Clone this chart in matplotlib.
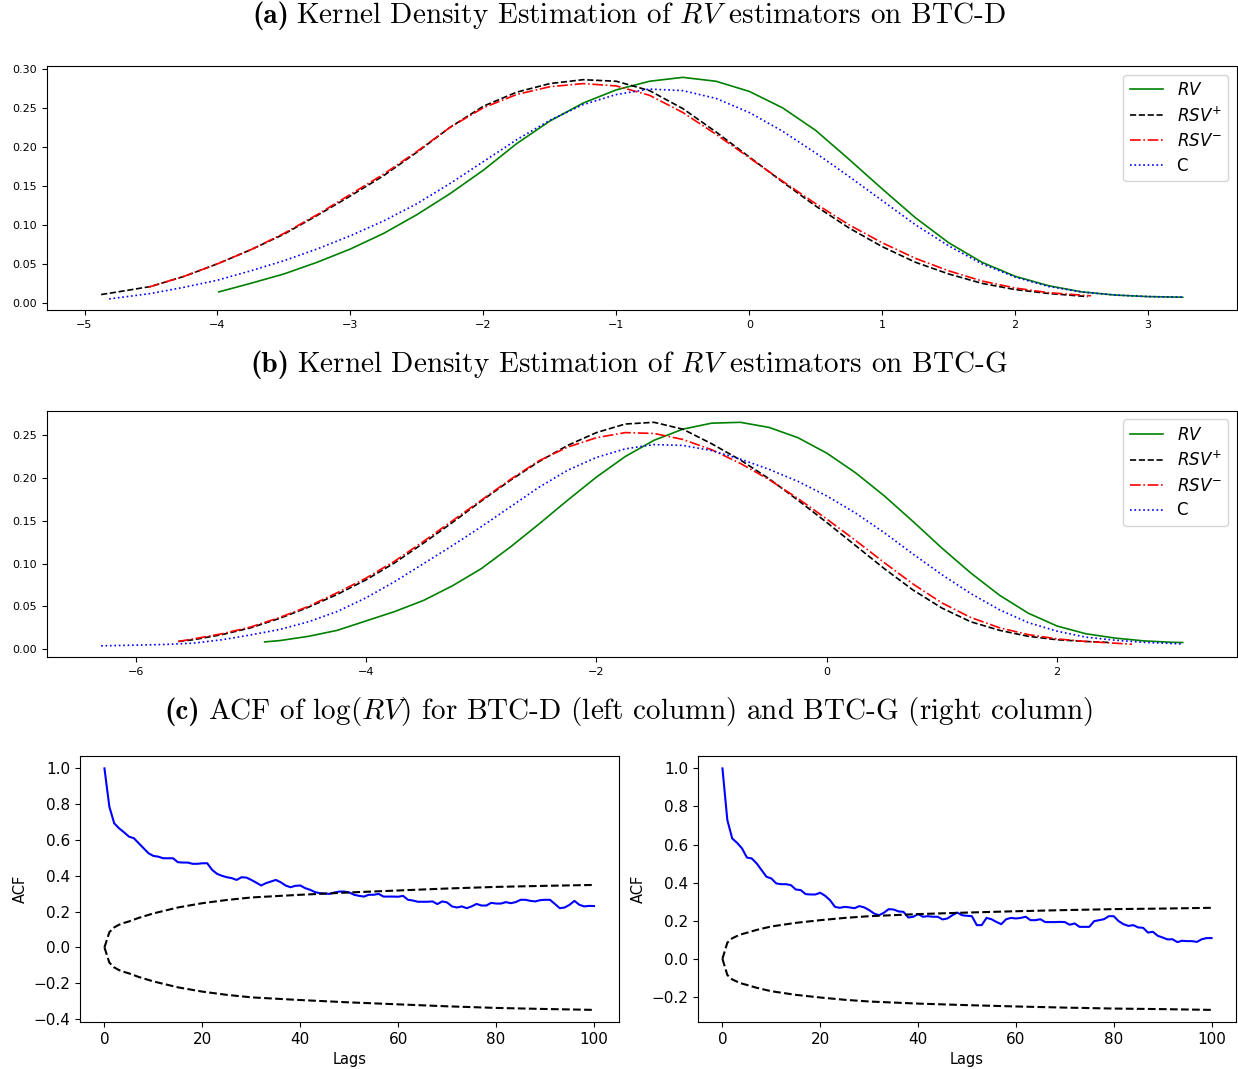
import matplotlib
matplotlib.use('Agg')
import matplotlib.pyplot as plt

# ---- (a) KDE on BTC-D ----
a_rv_x = [-3.99, -3.75, -3.5, -3.25, -3, -2.75, -2.5, -2.25, -2, -1.75, -1.5, -1.25, -1, -0.75, -0.5,
          -0.25, 0, 0.25, 0.5, 0.75, 1, 1.25, 1.5, 1.75, 2, 2.25, 2.5, 2.75, 3, 3.26]
a_rv_y = [0.014, 0.025, 0.037, 0.052, 0.069, 0.089, 0.113, 0.140, 0.170, 0.204, 0.233, 0.256, 0.273,
          0.284, 0.289, 0.284, 0.271, 0.250, 0.221, 0.184, 0.146, 0.109, 0.077, 0.052, 0.034, 0.022,
          0.014, 0.010, 0.008, 0.0072]
a_rsvp_x = [-4.875, -4.75, -4.5, -4.25, -4, -3.75, -3.5, -3.25, -3, -2.75, -2.5, -2.25, -2, -1.75, -1.5,
            -1.25, -1, -0.75, -0.5, -0.25, 0, 0.25, 0.5, 0.75, 1, 1.25, 1.5, 1.75, 2, 2.25, 2.545]
a_rsvp_y = [0.0106, 0.014, 0.021, 0.034, 0.050, 0.068, 0.088, 0.112, 0.137, 0.163, 0.193, 0.225, 0.252,
            0.270, 0.281, 0.286, 0.284, 0.272, 0.249, 0.219, 0.187, 0.155, 0.124, 0.096, 0.072, 0.052,
            0.037, 0.025, 0.017, 0.012, 0.008]
a_rsvm_x = [-4.52, -4.25, -4, -3.75, -3.5, -3.25, -3, -2.75, -2.5, -2.25, -2, -1.75, -1.5, -1.25, -1,
            -0.75, -0.5, -0.25, 0, 0.25, 0.5, 0.75, 1, 1.25, 1.5, 1.75, 2, 2.25, 2.57]
a_rsvm_y = [0.020, 0.034, 0.050, 0.068, 0.089, 0.113, 0.139, 0.165, 0.194, 0.225, 0.250, 0.267, 0.277,
            0.281, 0.278, 0.266, 0.244, 0.216, 0.186, 0.156, 0.127, 0.100, 0.077, 0.057, 0.041, 0.028,
            0.019, 0.013, 0.009]
a_c_x = [-4.815, -4.5, -4.25, -4, -3.75, -3.5, -3.25, -3, -2.75, -2.5, -2.25, -2, -1.75, -1.5, -1.25, -1,
         -0.75, -0.5, -0.25, 0, 0.25, 0.5, 0.75, 1, 1.25, 1.5, 1.75, 2, 2.25, 2.5, 2.75, 3, 3.26]
a_c_y = [0.005, 0.012, 0.020, 0.029, 0.041, 0.054, 0.069, 0.086, 0.105, 0.127, 0.153, 0.181, 0.209, 0.234,
         0.254, 0.267, 0.274, 0.272, 0.262, 0.244, 0.220, 0.192, 0.162, 0.131, 0.100, 0.073, 0.050,
         0.033, 0.021, 0.014, 0.010, 0.008, 0.0072]

# ---- (b) KDE on BTC-G ----
b_rv_x = [-4.88, -4.75, -4.5, -4.25, -4, -3.75, -3.5, -3.25, -3, -2.75, -2.5, -2.25, -2, -1.75, -1.5,
          -1.25, -1, -0.75, -0.5, -0.25, 0, 0.25, 0.5, 0.75, 1, 1.25, 1.5, 1.75, 2, 2.25, 2.5, 2.75, 3, 3.09]
b_rv_y = [0.0085, 0.010, 0.015, 0.022, 0.033, 0.044, 0.057, 0.074, 0.094, 0.119, 0.146, 0.174, 0.201,
          0.225, 0.244, 0.257, 0.264, 0.265, 0.259, 0.247, 0.229, 0.206, 0.179, 0.149, 0.118, 0.089,
          0.063, 0.042, 0.027, 0.018, 0.013, 0.0097, 0.008, 0.0078]
b_rsvp_x = [-5.63, -5.5, -5.25, -5, -4.75, -4.5, -4.25, -4, -3.75, -3.5, -3.25, -3, -2.75, -2.5, -2.25,
            -2, -1.75, -1.5, -1.25, -1, -0.75, -0.5, -0.25, 0, 0.25, 0.5, 0.75, 1, 1.25, 1.5, 1.75, 2,
            2.25, 2.46]
b_rsvp_y = [0.009, 0.011, 0.017, 0.025, 0.036, 0.049, 0.064, 0.081, 0.101, 0.124, 0.148, 0.173, 0.197,
            0.219, 0.238, 0.253, 0.263, 0.265, 0.257, 0.240, 0.221, 0.199, 0.174, 0.148, 0.121, 0.094,
            0.069, 0.048, 0.032, 0.022, 0.015, 0.011, 0.009, 0.0078]
b_rsvm_x = [-5.63, -5.5, -5.25, -5, -4.75, -4.5, -4.25, -4, -3.75, -3.5, -3.25, -3, -2.75, -2.5, -2.25,
            -2, -1.75, -1.5, -1.25, -1, -0.75, -0.5, -0.25, 0, 0.25, 0.5, 0.75, 1, 1.25, 1.5, 1.75, 2,
            2.25, 2.5, 2.65]
b_rsvm_y = [0.009, 0.012, 0.018, 0.026, 0.037, 0.050, 0.066, 0.083, 0.103, 0.126, 0.150, 0.174, 0.198,
            0.220, 0.236, 0.247, 0.253, 0.252, 0.245, 0.233, 0.217, 0.198, 0.176, 0.152, 0.127, 0.101,
            0.076, 0.054, 0.037, 0.025, 0.017, 0.012, 0.009, 0.007, 0.0058]
b_c_x = [-6.30, -6, -5.75, -5.5, -5.25, -5, -4.75, -4.5, -4.25, -4, -3.75, -3.5, -3.25, -3, -2.75, -2.5,
         -2.25, -2, -1.75, -1.5, -1.25, -1, -0.75, -0.5, -0.25, 0, 0.25, 0.5, 0.75, 1, 1.25, 1.5, 1.75,
         2, 2.25, 2.5, 2.75, 3, 3.09]
b_c_y = [0.0039, 0.0047, 0.0055, 0.007, 0.011, 0.0167, 0.023, 0.032, 0.044, 0.060, 0.079, 0.100, 0.121,
         0.143, 0.166, 0.189, 0.209, 0.224, 0.234, 0.239, 0.238, 0.232, 0.222, 0.210, 0.196, 0.179,
         0.159, 0.136, 0.111, 0.087, 0.065, 0.046, 0.031, 0.021, 0.014, 0.0105, 0.008, 0.0066, 0.006]

# ---- (c) ACF of log(RV), lags 0..100 ----
lags = list(range(101))
acf_d = [1.0, 0.786, 0.693, 0.665, 0.643, 0.619, 0.61, 0.582, 0.554, 0.526,
         0.511, 0.507, 0.498, 0.498, 0.498, 0.476, 0.474, 0.474, 0.467, 0.467,
         0.47, 0.47, 0.433, 0.411, 0.40, 0.392, 0.387, 0.377, 0.392, 0.39,
         0.377, 0.362, 0.346, 0.359, 0.368, 0.377, 0.364, 0.346, 0.336, 0.344,
         0.346, 0.331, 0.322, 0.309, 0.303, 0.301, 0.299, 0.307, 0.312, 0.312,
         0.307, 0.294, 0.288, 0.284, 0.294, 0.294, 0.299, 0.284, 0.284, 0.284,
         0.283, 0.288, 0.266, 0.262, 0.255, 0.255, 0.255, 0.257, 0.242, 0.257,
         0.251, 0.229, 0.223, 0.229, 0.219, 0.229, 0.243, 0.234, 0.234, 0.249,
         0.245, 0.245, 0.253, 0.247, 0.253, 0.266, 0.266, 0.260, 0.257, 0.264,
         0.266, 0.266, 0.243, 0.219, 0.223, 0.238, 0.260, 0.238, 0.229, 0.232, 0.231]
acf_g = [1.0, 0.729, 0.632, 0.609, 0.580, 0.532, 0.527, 0.501, 0.466, 0.431,
         0.422, 0.396, 0.392, 0.392, 0.387, 0.364, 0.361, 0.34, 0.338, 0.338,
         0.347, 0.331, 0.308, 0.273, 0.268, 0.273, 0.270, 0.266, 0.277, 0.270,
         0.256, 0.238, 0.229, 0.242, 0.261, 0.259, 0.249, 0.247, 0.217, 0.221,
         0.235, 0.221, 0.224, 0.221, 0.221, 0.207, 0.212, 0.229, 0.243, 0.229,
         0.226, 0.224, 0.177, 0.177, 0.215, 0.208, 0.194, 0.182, 0.208, 0.215,
         0.212, 0.215, 0.221, 0.203, 0.203, 0.208, 0.193, 0.193, 0.193, 0.194,
         0.193, 0.179, 0.186, 0.168, 0.168, 0.168, 0.198, 0.203, 0.208, 0.224,
         0.224, 0.198, 0.182, 0.173, 0.177, 0.165, 0.163, 0.138, 0.142, 0.121,
         0.112, 0.102, 0.103, 0.088, 0.095, 0.093, 0.093, 0.089, 0.103, 0.109, 0.109]
band_lags = [0, 1, 2, 3, 4, 5, 7, 10, 15, 20, 25, 30, 40, 50, 60, 70, 80, 90, 100]
band_d = [0.0, 0.085, 0.112, 0.127, 0.137, 0.145, 0.165, 0.190, 0.223, 0.247, 0.265, 0.279, 0.294,
          0.307, 0.318, 0.329, 0.338, 0.344, 0.349]
band_g = [0.0, 0.085, 0.108, 0.12, 0.13, 0.137, 0.152, 0.170, 0.189, 0.203, 0.215, 0.224, 0.235,
          0.243, 0.250, 0.256, 0.261, 0.264, 0.268]

labels = ['$RV$', '$RSV^{+}$', '$RSV^{-}$', 'C']
styles = [('green', '-'), ('black', '--'), ('red', '-.'), ('blue', ':')]

fig = plt.figure(figsize=(12.38, 10.69), dpi=100)
renderer = fig.canvas.get_renderer()


def panel_title(y, tag, text):
    # bold tag and serif body, placed side by side and centred as one line
    t1 = fig.text(0, y, tag, fontsize=21, fontfamily='cmb10', va='baseline')
    t2 = fig.text(0, y, text, fontsize=21, fontfamily='cmr10', math_fontfamily='cm', va='baseline')
    w1 = t1.get_window_extent(renderer).width / fig.bbox.width
    w2 = t2.get_window_extent(renderer).width / fig.bbox.width
    x0 = 0.505 - (w1 + w2) / 2
    t1.set_x(x0)
    t2.set_x(x0 + w1 + 0.006)


panel_title(0.9785, '(a)', 'Kernel Density Estimation of $RV$ estimators on BTC-D')
panel_title(0.652, '(b)', 'Kernel Density Estimation of $RV$ estimators on BTC-G')
panel_title(0.3275, '(c)', r'ACF of $\log(RV)$ for BTC-D (left column) and BTC-G (right column)')


def plot_kde(ax, curves):
    for (xs, ys), (col, ls), lab in zip(curves, styles, labels):
        ax.plot(xs, ys, color=col, linestyle=ls, linewidth=1.2, label=lab)
    ax.tick_params(labelsize=8)
    ax.legend(loc='upper right', fontsize=12, labelspacing=0.4)


ax_a = fig.add_axes([0.038, 0.710, 0.961, 0.228])
plot_kde(ax_a, [(a_rv_x, a_rv_y), (a_rsvp_x, a_rsvp_y), (a_rsvm_x, a_rsvm_y), (a_c_x, a_c_y)])

ax_b = fig.add_axes([0.038, 0.3854, 0.961, 0.230])
plot_kde(ax_b, [(b_rv_x, b_rv_y), (b_rsvp_x, b_rsvp_y), (b_rsvm_x, b_rsvm_y), (b_c_x, b_c_y)])


def plot_acf(ax, acf, band):
    ax.plot(lags, acf, color='blue', linewidth=1.5)
    ax.plot(band_lags, band, 'k--', linewidth=1.5)
    ax.plot(band_lags, [-v for v in band], 'k--', linewidth=1.5)
    ax.set_xlabel('Lags', fontsize=10.5)
    ax.set_ylabel('ACF', fontsize=10.5)
    ax.tick_params(labelsize=11)
    ax.set_xticks([0, 20, 40, 60, 80, 100])


ax_c1 = fig.add_axes([0.0646, 0.044, 0.435, 0.2485])
plot_acf(ax_c1, acf_d, band_d)
ax_c2 = fig.add_axes([0.5638, 0.044, 0.4346, 0.2485])
plot_acf(ax_c2, acf_g, band_g)

fig.savefig('out.png', dpi=100)
